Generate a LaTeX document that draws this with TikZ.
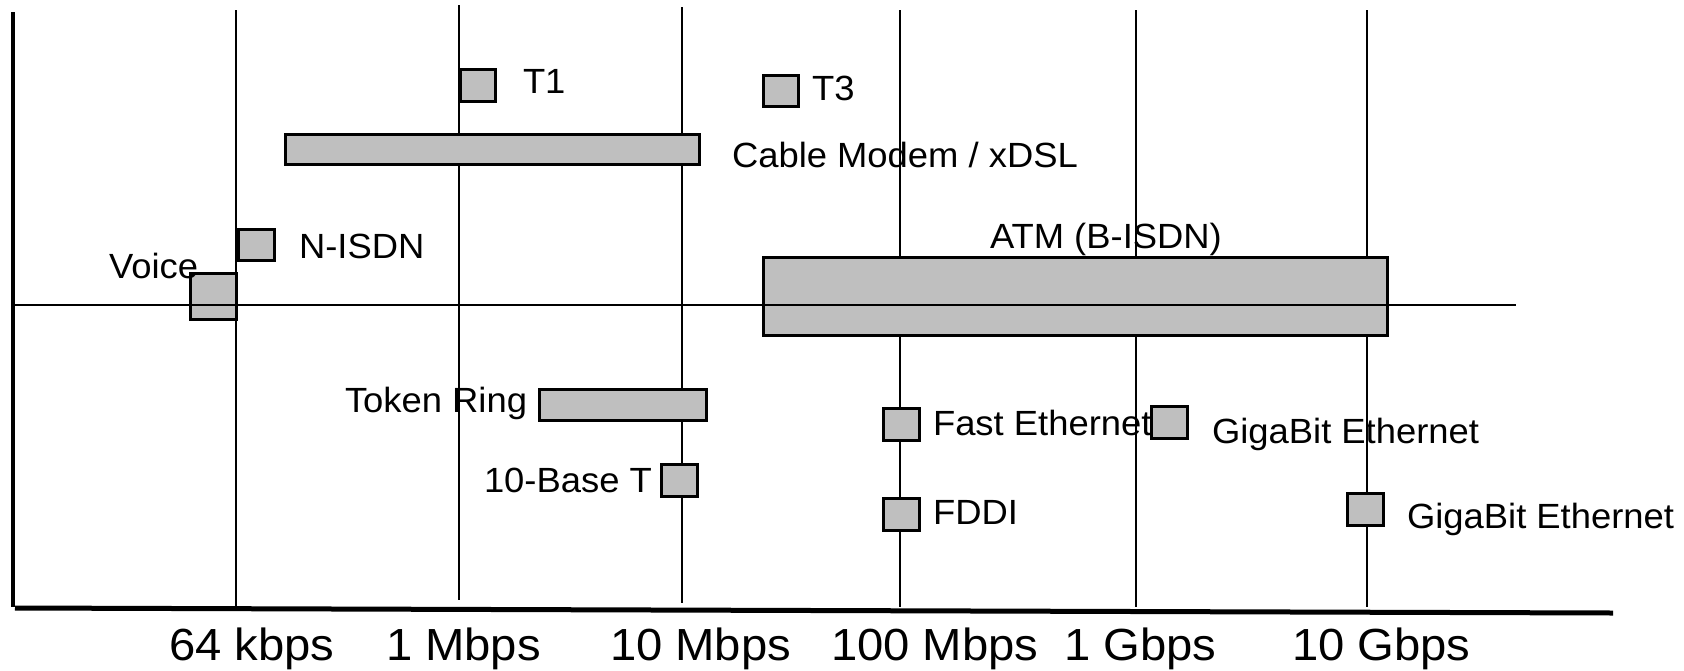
\documentclass[tikz,border=0pt]{standalone}
\usepackage{fontspec}
\setmainfont{Liberation Sans}
\usepackage{graphicx}

\newcommand{\wtext}[1]{\scalebox{1.04}[1]{#1}}
\newcommand{\rtext}[1]{\scalebox{1.05}[1]{#1}}

\begin{document}
\begin{tikzpicture}[x=1pt,y=-1pt,line width=2pt,
  bar/.style={draw,line width=3pt,fill=black!25,inner sep=0pt},
  lbl/.style={font=\fontsize{35}{42}\selectfont,inner sep=0pt,anchor=base west},
  ratelbl/.style={font=\fontsize{45}{54}\selectfont,inner sep=0pt,anchor=base west}]
\useasboundingbox (0,0) rectangle (1684,670);
% grid of rates
\draw (236,10) -- (236,607);
\draw (459,5) -- (459,600);
\draw (682,7) -- (682,603);
\draw (900,10) -- (900,607);
\draw (1136,10) -- (1136,607);
\draw (1367,10) -- (1367,607);
%
\node[bar,minimum width=35,minimum height=32] (t1) at (478,85.5) {};
\node[bar,minimum width=35,minimum height=31] (t3) at (781,91) {};
\node[bar,minimum width=414,minimum height=30] (cable) at (492.5,149.5) {};
\node[bar,minimum width=36,minimum height=31] (nisdn) at (256.5,245) {};
\node[bar,minimum width=46,minimum height=46] (voice) at (213.5,296.5) {};
\node[bar,minimum width=624,minimum height=78] (atm) at (1075.5,296.5) {};
\node[bar,minimum width=167,minimum height=31] (token) at (623,405) {};
\node[bar,minimum width=36,minimum height=32] (tenbase) at (679.5,480.5) {};
\node[bar,minimum width=36,minimum height=32] (fast) at (901.5,424.5) {};
\node[bar,minimum width=36,minimum height=32] (fddi) at (901.5,514.5) {};
\node[bar,minimum width=36,minimum height=32] (gigaa) at (1169.5,422.5) {};
\node[bar,minimum width=36,minimum height=32] (gigab) at (1365.5,509.5) {};
%
\draw[line width=1.5pt] (13,305) -- (1516,305);
%
\node[lbl] (t1lbl) at (522,93) {\wtext{T1}};
\node[lbl] (t3lbl) at (811,100) {\wtext{T3}};
\node[lbl] (cablelbl) at (731,167) {\wtext{Cable Modem / xDSL}};
\node[lbl] (nisdnlbl) at (298,258) {\wtext{N-ISDN}};
\node[lbl] (voicelbl) at (108,278) {\wtext{Voice}};
\node[lbl] (atmlbl) at (989,248) {\wtext{ATM (B-ISDN)}};
\node[lbl] (tokenlbl) at (344,412) {\wtext{Token Ring}};
\node[lbl] (tenbaselbl) at (483,492) {\wtext{10-Base T}};
\node[lbl] (fastlbl) at (932,435) {\wtext{Fast Ethernet}};
\node[lbl] (fddilbl) at (932,524) {\wtext{FDDI}};
\node[lbl] (gigaalbl) at (1211,443) {\wtext{GigaBit Ethernet}};
\node[lbl] (gigablbl) at (1406,528) {\wtext{GigaBit Ethernet}};
%
\draw[line width=4pt] (13,12) -- (13,607);
\draw[line width=5pt] (15,608) -- (1613,613);
\node[ratelbl] (r64k) at (168,660) {\rtext{64 kbps}};
\node[ratelbl] (r1m) at (385,660) {\rtext{1 Mbps}};
\node[ratelbl] (r10m) at (609,660) {\rtext{10 Mbps}};
\node[ratelbl] (r100m) at (830,660) {\rtext{100 Mbps}};
\node[ratelbl] (r1g) at (1063,660) {\rtext{1 Gbps}};
\node[ratelbl] (r10g) at (1291,660) {\rtext{10 Gbps}};
\end{tikzpicture}
\end{document}
